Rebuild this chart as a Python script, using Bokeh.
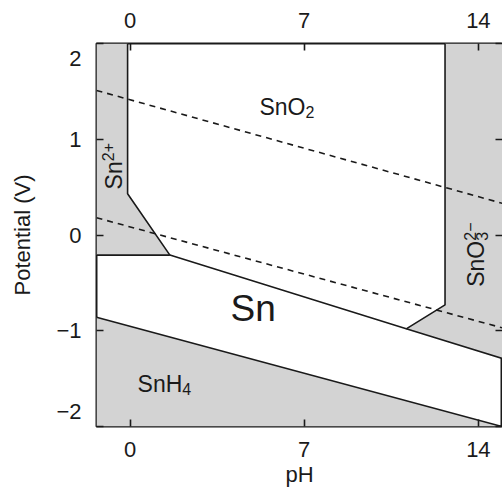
import numpy as np
from bokeh.plotting import figure
from bokeh.models import LinearAxis, FixedTicker, Range1d
from bokeh.embed import file_html
from bokeh.resources import INLINE
from bokeh.core.properties import value

# ---- axis ranges and ticks ----
PH_MIN, PH_MAX = -1.35, 14.97
E_MIN, E_MAX = -2.0, 2.0
ph_ticks = [0, 7, 14]
e_ticks = [-2, -1, 0, 1, 2]
# edge labels sit just inside the frame corners (multi-line trick shifts them)
e_tick_labels = {-2: "\u22122\n", -1: "\u22121", 0: "0", 1: "1", 2: "\n2"}

# ---- phase boundaries (pH, potential V) ----
sn2_sno2_ph = [-0.1, -0.1, 1.6]
sn2_sno2_e = [2.0, 0.43, -0.21]
sn2_sn_ph = [PH_MIN, 1.6]
sn2_sn_e = [-0.21, -0.21]
sn_ox_ph = [1.6, 11.1, 14.97]
sn_ox_e = [-0.21, -0.98, -1.29]
sno2_sno3_ph = [12.66, 12.66, 11.1]
sno2_sno3_e = [2.0, -0.73, -0.98]
snh4_ph = [PH_MIN, 14.95]
snh4_e = [-0.86, -2.0]

# ---- water stability lines (dashed) ----
o2_ph = [PH_MIN, PH_MAX]
o2_e = [1.51, 0.33]
h2_ph = [PH_MIN, PH_MAX]
h2_e = [0.18, -0.97]

# ---- species labels ----
lab_sno2 = (7.05, 1.34)
lab_sn = (4.95, -0.77)
lab_snh4 = (2.1, -1.56)
lab_sn2 = (-0.66, 0.77)
lab_sno3 = (13.92, -0.06)

FONT = "Liberation Sans"
GRAY = "#d3d3d3"
INK = "#1a1a1a"

p = figure(frame_width=406, frame_height=383,
           x_range=Range1d(PH_MIN, PH_MAX), y_range=Range1d(E_MIN, E_MAX),
           x_axis_location=None, y_axis_location=None,
           output_backend="svg", toolbar_location=None,
           min_border_left=96, min_border_top=43, min_border_right=0,
           min_border_bottom=48)
p.background_fill_color = "white"
p.border_fill_color = "white"
p.xgrid.visible = False
p.ygrid.visible = False
p.outline_line_color = INK
p.outline_line_width = 2
p.outline_line_alpha = 1.0

# ---- shaded regions ----
sn2_x = [PH_MIN] + sn2_sno2_ph + [sn2_sn_ph[0]]
sn2_y = [E_MAX] + sn2_sno2_e + [sn2_sn_e[0]]
p.patch(sn2_x, sn2_y, fill_color=GRAY, line_color=None)

sno3_x = [sno2_sno3_ph[0], PH_MAX, PH_MAX, sn_ox_ph[1], sno2_sno3_ph[1]]
sno3_y = [E_MAX, E_MAX, sn_ox_e[2], sn_ox_e[1], sno2_sno3_e[1]]
p.patch(sno3_x, sno3_y, fill_color=GRAY, line_color=None)

snh4_x = [snh4_ph[0], snh4_ph[1], PH_MIN]
snh4_y = [snh4_e[0], snh4_e[1], E_MIN]
p.patch(snh4_x, snh4_y, fill_color=GRAY, line_color=None)

# ---- boundaries ----
for xs, ys in [(sn2_sno2_ph, sn2_sno2_e), (sn2_sn_ph, sn2_sn_e),
               (sn_ox_ph, sn_ox_e), (sno2_sno3_ph, sno2_sno3_e),
               (snh4_ph, snh4_e)]:
    p.line(xs, ys, line_color=INK, line_width=1.6)

for xs, ys in [(o2_ph, o2_e), (h2_ph, h2_e)]:
    p.line(xs, ys, line_color=INK, line_width=1.6, line_dash="6 5")

# ---- labels ----
def txt(x, y, s, size, align="center", baseline="middle", angle=0, xo=0, yo=0):
    p.text(x=[x], y=[y], text=[s], text_font=value(FONT),
           text_font_size=size, text_align=align, text_baseline=baseline,
           angle=angle, x_offset=xo, y_offset=yo, text_color=INK)

txt(lab_sno2[0], lab_sno2[1], "SnO", "23px", align="right")
txt(lab_sno2[0], lab_sno2[1], "2", "16px", align="left", yo=5)

txt(lab_sn[0], lab_sn[1], "Sn", "37px")

txt(lab_snh4[0], lab_snh4[1], "SnH", "23px", align="right")
txt(lab_snh4[0], lab_snh4[1], "4", "16px", align="left", yo=5)

txt(lab_sn2[0], lab_sn2[1], "Sn", "23px", align="right", angle=np.pi / 2)
txt(lab_sn2[0], lab_sn2[1], "2+", "16px", align="left", angle=np.pi / 2, xo=-6)

txt(lab_sno3[0], lab_sno3[1], "SnO", "23px", align="right", angle=np.pi / 2)
txt(lab_sno3[0], lab_sno3[1], "3", "16px", align="left", angle=np.pi / 2, xo=6)
txt(lab_sno3[0], lab_sno3[1], "2\u2212", "16px", align="left", angle=np.pi / 2, xo=-6)

# ---- axes ----
bottom = LinearAxis(ticker=FixedTicker(ticks=ph_ticks))
top = LinearAxis(ticker=FixedTicker(ticks=ph_ticks))
left = LinearAxis(ticker=FixedTicker(ticks=e_ticks))
right = LinearAxis(ticker=FixedTicker(ticks=e_ticks))
p.add_layout(bottom, "below")
p.add_layout(top, "above")
p.add_layout(left, "left")
p.add_layout(right, "right")

left.major_label_overrides = e_tick_labels
right.major_label_overrides = {t: "" for t in e_ticks}

for ax in [bottom, top, left, right]:
    ax.major_tick_in = 7
    ax.major_tick_out = 0
    ax.minor_tick_line_color = None
    ax.axis_line_color = None
    ax.major_tick_line_color = INK
    ax.major_tick_line_width = 1.6
    ax.major_label_text_font = FONT
    ax.major_label_text_font_size = "22px"
    ax.major_label_text_color = INK
    ax.axis_label_text_font = FONT
    ax.axis_label_text_font_size = "22px"
    ax.axis_label_text_font_style = "normal"
    ax.axis_label_text_color = INK

bottom.axis_label = "pH"
bottom.major_label_standoff = 15
bottom.axis_label_standoff = 2
top.major_label_standoff = 16
left.axis_label = "Potential (V)"
left.major_label_standoff = 15
left.axis_label_standoff = 18
left.major_label_orientation = "horizontal"
right.major_label_standoff = 0

open("out.html", "w").write(file_html(p, INLINE))
